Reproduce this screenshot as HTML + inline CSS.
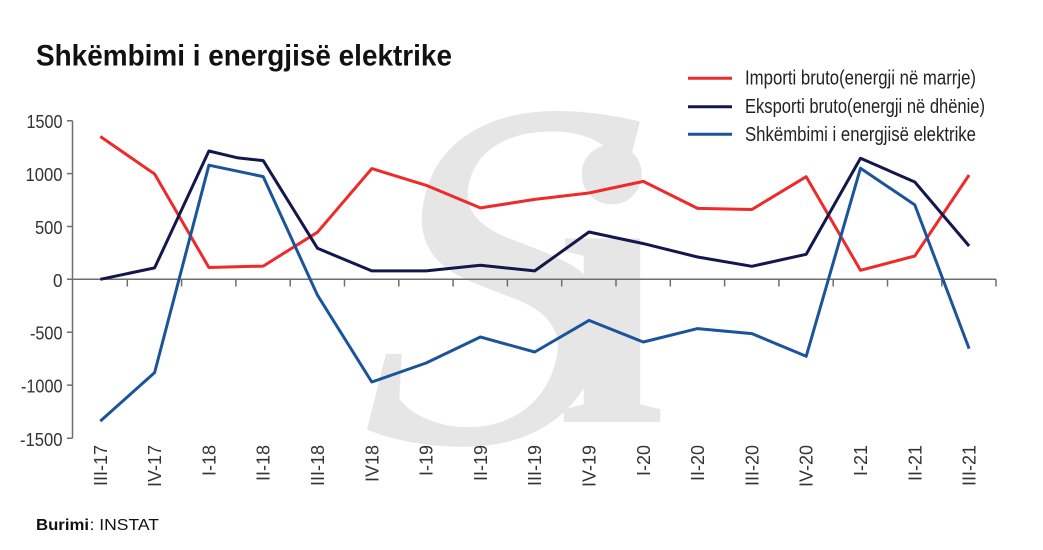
<!DOCTYPE html>
<html><head><meta charset="utf-8"><style>
html,body{margin:0;padding:0;background:#fff;}
svg{display:block;}
text{font-family:"Liberation Sans",Arial,sans-serif;}
text.wm{font-family:"Liberation Serif",serif;}
</style></head><body>
<svg width="1043" height="550" viewBox="0 0 1043 550" xmlns="http://www.w3.org/2000/svg">
<rect width="1043" height="550" fill="#fff"/>
<!-- watermark -->
<g fill="#e6e6e6">
<text class="wm" transform="translate(330,442) skewX(-14)" x="0" y="0" font-size="500">S</text>
<text class="wm" x="555" y="422" font-size="400" font-weight="bold">i</text>
</g>
<!-- title -->
<text x="36" y="65.5" font-size="30" font-weight="bold" fill="#111" textLength="416" lengthAdjust="spacingAndGlyphs">Shkëmbimi i energjisë elektrike</text>
<!-- legend -->
<g stroke-width="3">
<line x1="688" y1="78.3" x2="732" y2="78.3" stroke="#ee2a2a"/>
<line x1="688" y1="106.7" x2="732" y2="106.7" stroke="#14164e"/>
<line x1="688" y1="134.3" x2="732" y2="134.3" stroke="#1a559b"/>
</g>
<g font-size="20.5" fill="#222">
<text x="745" y="84.5" textLength="231" lengthAdjust="spacingAndGlyphs">Importi bruto(energji në marrje)</text>
<text x="745" y="113" textLength="240" lengthAdjust="spacingAndGlyphs">Eksporti bruto(energji në dhënie)</text>
<text x="745" y="141" textLength="231" lengthAdjust="spacingAndGlyphs">Shkëmbimi i energjisë elektrike</text>
</g>
<!-- axes -->
<g stroke="#6e6e6e" stroke-width="1.5" fill="none">
<line x1="72.5" y1="120.7" x2="72.5" y2="438.3"/>
<line x1="72.5" y1="279.3" x2="996" y2="279.3"/>
<path d="M67 120.7H72.5M67 173.6H72.5M67 226.5H72.5M67 279.3H72.5M67 332.2H72.5M67 385.1H72.5M67 438.3H72.5"/>
<path d="M127.3 279.3V286.5M181.6 279.3V286.5M235.9 279.3V286.5M290.2 279.3V286.5M344.5 279.3V286.5M398.8 279.3V286.5M453.1 279.3V286.5M507.4 279.3V286.5M561.7 279.3V286.5M616 279.3V286.5M670.3 279.3V286.5M724.6 279.3V286.5M778.9 279.3V286.5M833.2 279.3V286.5M887.5 279.3V286.5M941.8 279.3V286.5M996 279.3V286.5"/>
</g>
<!-- y labels -->
<g font-size="18" fill="#333" text-anchor="end">
<text x="62.5" y="128.2" textLength="36" lengthAdjust="spacingAndGlyphs">1500</text>
<text x="62.5" y="181.1" textLength="37" lengthAdjust="spacingAndGlyphs">1000</text>
<text x="62.5" y="234" textLength="27.5" lengthAdjust="spacingAndGlyphs">500</text>
<text x="62.5" y="286.8" textLength="9.5" lengthAdjust="spacingAndGlyphs">0</text>
<text x="62.5" y="339.7" textLength="32.5" lengthAdjust="spacingAndGlyphs">-500</text>
<text x="62.5" y="392.6" textLength="41.5" lengthAdjust="spacingAndGlyphs">-1000</text>
<text x="62.5" y="445.8" textLength="42.5" lengthAdjust="spacingAndGlyphs">-1500</text>
</g>
<!-- x labels -->
<g font-size="18" fill="#333" text-anchor="end">
<text transform="translate(106.8,445) rotate(-90)">III-17</text>
<text transform="translate(161.1,445) rotate(-90)">IV-17</text>
<text transform="translate(215.4,445) rotate(-90)">I-18</text>
<text transform="translate(269.7,445) rotate(-90)">II-18</text>
<text transform="translate(324,445) rotate(-90)">III-18</text>
<text transform="translate(378.3,445) rotate(-90)">IV18</text>
<text transform="translate(432.6,445) rotate(-90)">I-19</text>
<text transform="translate(486.9,445) rotate(-90)">II-19</text>
<text transform="translate(541.2,445) rotate(-90)">III-19</text>
<text transform="translate(595.5,445) rotate(-90)">IV-19</text>
<text transform="translate(649.8,445) rotate(-90)">I-20</text>
<text transform="translate(704.1,445) rotate(-90)">II-20</text>
<text transform="translate(758.4,445) rotate(-90)">III-20</text>
<text transform="translate(812.7,445) rotate(-90)">IV-20</text>
<text transform="translate(867,445) rotate(-90)">I-21</text>
<text transform="translate(921.3,445) rotate(-90)">II-21</text>
<text transform="translate(975.6,445) rotate(-90)">III-21</text>
</g>
<!-- series -->
<g fill="none" stroke-width="3" stroke-linejoin="round" stroke-linecap="butt">
<polyline stroke="#ee2a2a" points="100.3,136.5 154.6,174 208.9,267.5 263.2,266.1 317.5,232.2 371.8,168.6 426.1,185.3 480.4,207.9 534.7,199.4 589,193 643.3,181.4 697.6,208.4 751.9,209.5 806.2,176.7 860.5,270.3 914.8,256 969.1,175"/>
<polyline stroke="#14164e" points="100.3,279.3 154.6,267.9 208.9,151 238,157.9 263.2,160.6 317.5,248.3 371.8,270.9 426.1,270.9 480.4,265.3 534.7,270.9 589,232 643.3,243.6 697.6,257 751.9,266.3 806.2,254.3 860.5,158.3 914.8,182 969.1,246"/>
<polyline stroke="#1a559b" points="100.3,421.1 154.6,372.6 208.9,165.2 263.2,176.6 317.5,295.2 371.8,382 426.1,363 480.4,337 534.7,352 589,320.4 643.3,342 697.6,328.6 751.9,333.6 806.2,356.3 860.5,168.2 914.8,204.9 969.1,348.6"/>
</g>
<!-- footer -->
<text x="36" y="530" font-size="16" font-weight="bold" fill="#111" textLength="53" lengthAdjust="spacingAndGlyphs">Burimi</text>
<text x="89.5" y="530" font-size="16" fill="#111" textLength="69.5" lengthAdjust="spacingAndGlyphs">: INSTAT</text>
</svg>
</body></html>
